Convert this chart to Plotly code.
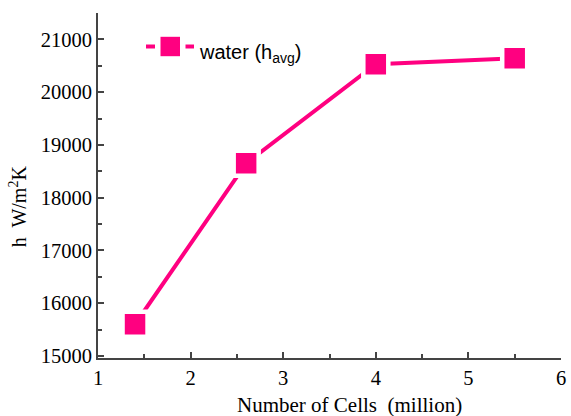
import plotly.graph_objects as go

cells_million = [1.4, 2.6, 4.0, 5.5]
h_avg = [15600, 18650, 20530, 20640]
series_name = "water (h<sub>avg</sub>)"

x_ticks = [1, 2, 3, 4, 5, 6]
y_ticks = [15000, 16000, 17000, 18000, 19000, 20000, 21000]

pink = "#FF0080"
axis_col = "#444444"
serif = "Liberation Serif, Times New Roman, serif"
sans = "Liberation Sans, Arial, sans-serif"

fig = go.Figure()
fig.add_trace(go.Scatter(
    x=cells_million, y=h_avg, name=series_name,
    mode="lines+markers", showlegend=False,
    line=dict(color=pink, width=4),
    marker=dict(symbol="square", size=25, color=pink,
                line=dict(color="white", width=4.5)),
))

# hand-drawn legend (line - square - line), positioned in pixels from plot's top-left
leg_cy = -33.5
shapes = [
    dict(type="line", xref="paper", yref="paper", xanchor=0, yanchor=1,
         xsizemode="pixel", ysizemode="pixel", x0=48, x1=57, y0=leg_cy, y1=leg_cy,
         line=dict(color=pink, width=4)),
    dict(type="line", xref="paper", yref="paper", xanchor=0, yanchor=1,
         xsizemode="pixel", ysizemode="pixel", x0=87.5, x1=96, y0=leg_cy, y1=leg_cy,
         line=dict(color=pink, width=4)),
    dict(type="rect", xref="paper", yref="paper", xanchor=0, yanchor=1,
         xsizemode="pixel", ysizemode="pixel", x0=62.5, x1=82, y0=leg_cy - 9.7, y1=leg_cy + 9.7,
         fillcolor=pink, line=dict(width=0)),
]

fig.update_layout(
    width=571, height=416,
    margin=dict(l=98, r=5, t=13, b=58),
    paper_bgcolor="white", plot_bgcolor="white",
    showlegend=False,
    shapes=shapes,
    xaxis=dict(range=[1, 6], tickvals=x_ticks, ticktext=[str(v) for v in x_ticks],
               showgrid=False, zeroline=False,
               showline=True, linecolor=axis_col, linewidth=2,
               ticks="inside", ticklen=6, tickwidth=2, tickcolor=axis_col,
               minor=dict(ticks="inside", ticklen=4, tickwidth=2, tickcolor=axis_col, dtick=0.5, showgrid=False),
               ticklabeloverflow="allow",
               tickfont=dict(family=serif, size=20.5, color="black")),
    yaxis=dict(range=[14960, 21500], tickvals=y_ticks, ticktext=[str(v) for v in y_ticks],
               showgrid=False, zeroline=False,
               showline=True, linecolor=axis_col, linewidth=2,
               ticks="inside", ticklen=6, tickwidth=2, tickcolor=axis_col,
               minor=dict(ticks="inside", ticklen=4, tickwidth=2, tickcolor=axis_col, dtick=500, showgrid=False),
               tickfont=dict(family=serif, size=20.5, color="black")),
    annotations=[
        dict(text=series_name, xref="paper", yref="paper",
             x=0, xshift=99, y=1, yshift=-26, xanchor="left", yanchor="top",
             showarrow=False, font=dict(family=sans, size=20, color="black")),
        dict(text="Number of Cells  (million)", xref="paper", yref="paper",
             x=0.543, y=0, yshift=-47, xanchor="center", yanchor="middle",
             showarrow=False, font=dict(family=serif, size=21, color="black")),
        dict(text="h  W/m<sup>2</sup>K", xref="paper", yref="paper",
             x=0, xshift=-80, y=0.44, xanchor="center", yanchor="middle",
             textangle=-90, showarrow=False, font=dict(family=serif, size=20, color="black")),
    ],
)

fig.write_html("out.html")
